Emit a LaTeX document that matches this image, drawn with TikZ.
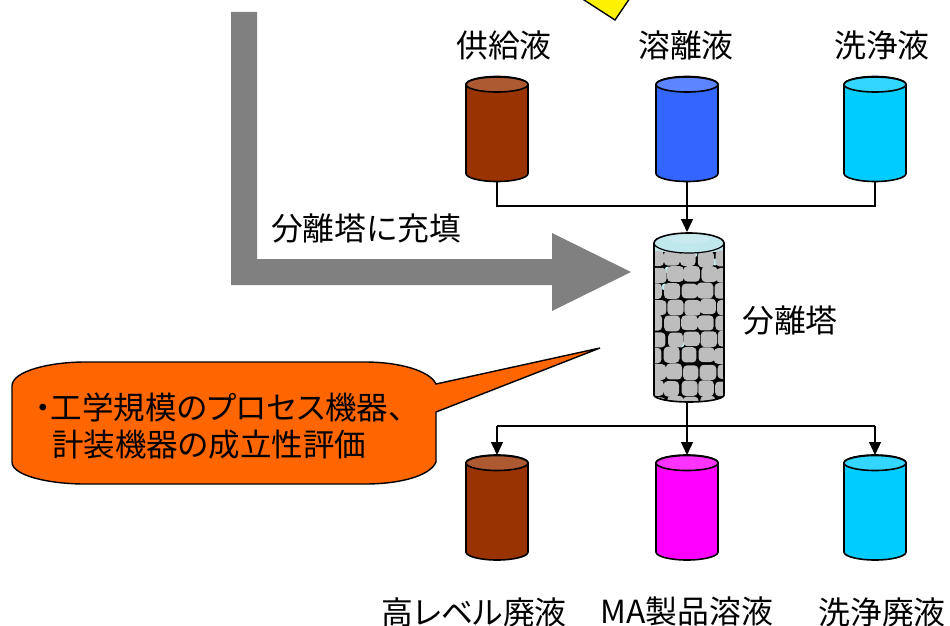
\documentclass[tikz,border=0pt]{standalone}
\usepackage{fontspec}
\usetikzlibrary{arrows.meta,calc}
\newfontfamily\cjk[RawFeature=+palt]{Noto Sans CJK JP}
\definecolor{brownfill}{HTML}{993300}
\definecolor{brownlid}{HTML}{AD5A33}
\definecolor{bluefill}{HTML}{3366FF}
\definecolor{bluelid}{HTML}{5C85FF}
\definecolor{cyanfill}{HTML}{00CCFF}
\definecolor{cyanlid}{HTML}{33D6FF}
\definecolor{magfill}{HTML}{FF00FF}
\definecolor{maglid}{HTML}{FF33FF}
\definecolor{arrowgray}{HTML}{808080}
\definecolor{pale}{HTML}{BFE8EC}
\definecolor{pack}{HTML}{BDBDBD}
\definecolor{callout}{HTML}{FF6600}
\tikzset{
  x=1pt,y=-1pt,
  lbl/.style={font=\cjk\fontsize{31.8}{36}\selectfont,inner sep=0pt,text=black},
  calltext/.style={font=\cjk\fontsize{31.5}{36}\selectfont,inner sep=0pt,text=black},
  tankbox/.style={minimum width=62pt,minimum height=105pt,inner sep=0pt,outer sep=0pt},
  tankline/.style={draw=black,line width=1.6pt},
  pipe/.style={draw=black,line width=1.3pt},
  pipearrow/.style={pipe,-{Triangle[length=13pt,width=12pt]}},
  bigarrow/.style={fill=arrowgray,draw=none},
}
\newcommand{\tank}[5]{%
  \node[tankbox] (#1) at (#2,#3) {};
  \draw[tankline,fill=#4]
    ($(#1.north west)+(0,8)$) -- ($(#1.south west)+(0,-8)$)
    arc[start angle=180,end angle=360,x radius=31pt,y radius=8pt]
    -- ($(#1.north east)+(0,8)$)
    arc[start angle=0,end angle=180,x radius=31pt,y radius=8pt] -- cycle;
  \draw[tankline,fill=#5] ($(#1.north)+(0,8)$) ellipse[x radius=31pt,y radius=7.5pt];
}
\begin{document}
\begin{tikzpicture}
\useasboundingbox (0,0) rectangle (950,626);
% yellow fragment
\begin{scope}
\clip (0,0) rectangle (950,626);
\draw[fill=yellow,draw=black,line width=1.4pt] (581,-2) -- (615,20) -- (630,-2);
\end{scope}
% big gray arrow
\fill[bigarrow] (231,12) -- (257,12) -- (257,259) -- (552,259) -- (552,233) -- (631,272) -- (552,311) -- (552,285) -- (231,285) -- cycle;
% tanks
\tank{c1}{497}{129}{brownfill}{brownlid}
\tank{c2}{687}{129}{bluefill}{bluelid}
\tank{c3}{875}{129}{cyanfill}{cyanlid}
\tank{c4}{497}{507.5}{brownfill}{brownlid}
\tank{c5}{687}{507.5}{magfill}{maglid}
\tank{c6}{875}{507.5}{cyanfill}{cyanlid}
% column
\node[minimum width=70pt,minimum height=170pt,inner sep=0pt,outer sep=0pt] (col) at (689,317) {};
\begin{scope}
\clip (654,243) arc[start angle=180,end angle=0,x radius=35pt,y radius=10pt] -- (724,395) arc[start angle=0,end angle=-180,x radius=35pt,y radius=7pt] -- cycle;
\fill[black] (654,230) rectangle (724,404);
\fill[pale] (654,233) rectangle (724,252);
\foreach \p/\q in {668/270,700/308,657/352,715/262,681/344,706/375,665/287,694/254,676/254}{
  \fill[pale] (\p,\q) circle[radius=3.5pt];
}
\pgfmathsetseed{11}
\foreach \r in {0,...,9}{
  \foreach \c in {0,...,4}{
    \pgfmathsetmacro{\px}{655+\c*16.8+mod(\r,2)*3+rand*1.2}
    \pgfmathsetmacro{\py}{258.5+\r*16.2+rand*1.0}
    \pgfmathsetmacro{\wa}{7.9+rand*0.5}
    \pgfmathsetmacro{\ha}{7.7+rand*0.4}
    \fill[pack,rounded corners=4pt] (\px-\wa,\py-\ha) rectangle (\px+\wa,\py+\ha);
  }
}
\end{scope}
\fill[pale] (689,243) ellipse[x radius=35pt,y radius=10pt];
\fill[pale!85!white] (689,238.5) ellipse[x radius=21pt,y radius=5pt];
\draw[black,line width=1.2pt] (654,243) arc[start angle=180,end angle=360,x radius=35pt,y radius=10pt];
\draw[black,line width=1.6pt] (654,243) arc[start angle=180,end angle=0,x radius=35pt,y radius=10pt] -- (724,395) arc[start angle=0,end angle=-180,x radius=35pt,y radius=7pt] -- cycle;
% connectors
\coordinate (jt) at (687,206);
\coordinate (jb) at (687,426);
\draw[pipe] (c1.south) -- (c1.south |- jt) -- (c3.south |- jt) -- (c3.south);
\draw[pipe] (c2.south) -- (jt);
\draw[pipearrow] (jt) -- (jt |- col.north);
\draw[pipearrow] (jb |- col.south) -- (c5.north);
\draw[pipearrow] (c4.north |- jb) -- (c4.north);
\draw[pipearrow] (c6.north |- jb) -- (c6.north);
\draw[pipe] (c4.north |- jb) -- (c6.north |- jb);
% callout
\draw[fill=callout,draw=black,line width=1.4pt]
  (12,386) .. controls (12,371) and (50,362) .. (85,362)
  -- (365,362) .. controls (400,362) and (430,371) .. (436,384)
  -- (600,348) -- (436,412) -- (436,462)
  .. controls (430,476) and (400,484) .. (365,484)
  -- (85,484) .. controls (50,484) and (12,476) .. (12,462) -- cycle;
\node[calltext,anchor=west] (t1) at (35,407) {・\kern0pt 工学規模のプロセス機器、};
\node[calltext,anchor=west] (t2) at (52,445) {計装機器の成立性評価};
% labels
\node[lbl] (l1) at (504,45) {供給液};
\node[lbl] (l2) at (686,45) {溶離液};
\node[lbl] (l3) at (882,45) {洗浄液};
\node[lbl] (l4) at (366,228) {分離塔に充填};
\node[lbl] (l5) at (790,320) {分離塔};
\node[lbl] (l6) at (474,612) {高レベル廃液};
\node[lbl] (l7) at (687,611) {MA製品溶液};
\node[lbl] (l8) at (882,612) {洗浄廃液};
\end{tikzpicture}
\end{document}
